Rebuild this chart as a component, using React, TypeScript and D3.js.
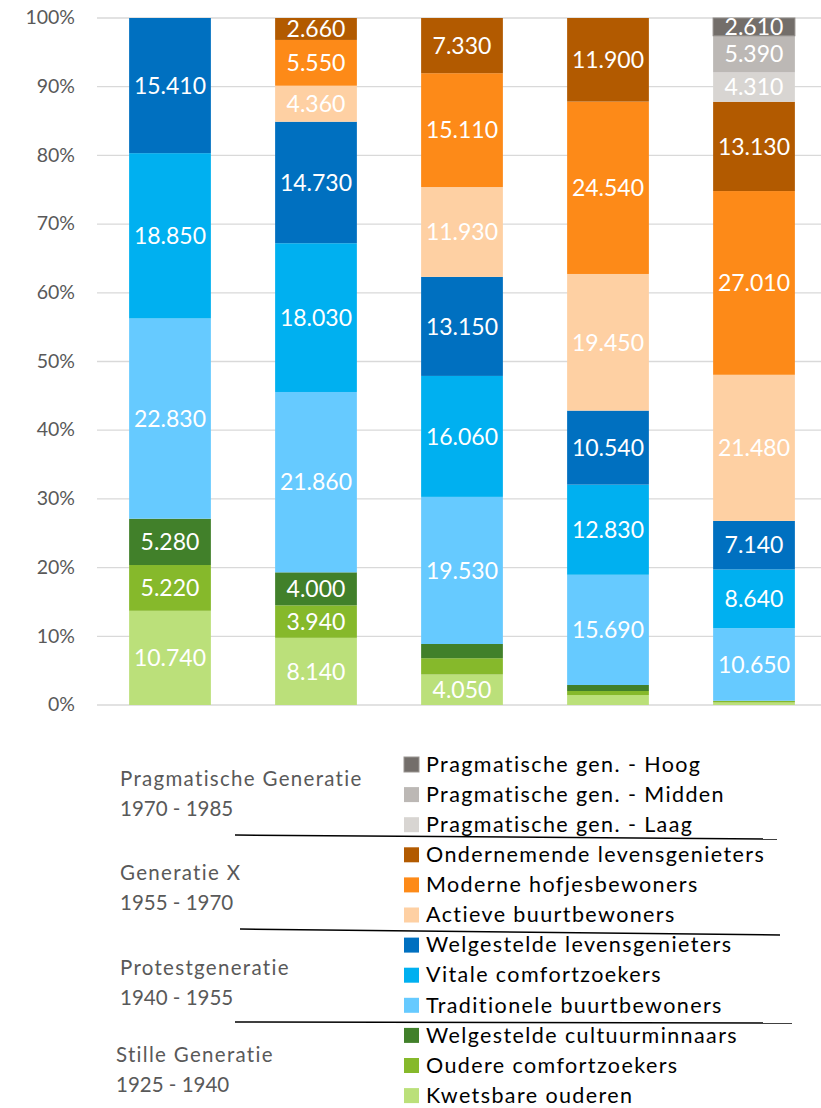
import { useEffect, useRef } from 'react';
import * as d3 from 'd3';

// five columns (no axis labels shown in the chart)
const columns = ['k1', 'k2', 'k3', 'k4', 'k5'];

// segments from bottom to top of each stack
const segmentNames = [
	'Kwetsbare ouderen',
	'Oudere comfortzoekers',
	'Welgestelde cultuurminnaars',
	'Traditionele buurtbewoners',
	'Vitale comfortzoekers',
	'Welgestelde levensgenieters',
	'Actieve buurtbewoners',
	'Moderne hofjesbewoners',
	'Ondernemende levensgenieters',
	'Pragmatische gen. - Laag',
	'Pragmatische gen. - Midden',
	'Pragmatische gen. - Hoog',
];

const kwetsbareOuderen = [10740, 8140, 4050, 1420, 370];
const oudereComfortzoekers = [5220, 3940, 2160, 570, 230];
const welgesteldeCultuurminnaars = [5280, 4000, 1890, 860, 30];
const traditioneleBuurtbewoners = [22830, 21860, 19530, 15690, 10650];
const vitaleComfortzoekers = [18850, 18030, 16060, 12830, 8640];
const welgesteldeLevensgenieters = [15410, 14730, 13150, 10540, 7140];
const actieveBuurtbewoners = [0, 4360, 11930, 19450, 21480];
const moderneHofjesbewoners = [0, 5550, 15110, 24540, 27010];
const ondernemendeLevensgenieters = [0, 2660, 7330, 11900, 13130];
const pragmatischLaag = [0, 0, 0, 0, 4310];
const pragmatischMidden = [0, 0, 0, 0, 5390];
const pragmatischHoog = [0, 0, 0, 0, 2610];

const segmentValues = [
	kwetsbareOuderen,
	oudereComfortzoekers,
	welgesteldeCultuurminnaars,
	traditioneleBuurtbewoners,
	vitaleComfortzoekers,
	welgesteldeLevensgenieters,
	actieveBuurtbewoners,
	moderneHofjesbewoners,
	ondernemendeLevensgenieters,
	pragmatischLaag,
	pragmatischMidden,
	pragmatischHoog,
];

const segmentColors = [
	'#bbe07a',
	'#86b92b',
	'#41802a',
	'#66caff',
	'#00b0f0',
	'#0070c0',
	'#fed0a3',
	'#fd8a18',
	'#b25a00',
	'#d8d5d2',
	'#bcb8b5',
	'#736e6a',
];

const yTicks = [0, 0.1, 0.2, 0.3, 0.4, 0.5, 0.6, 0.7, 0.8, 0.9, 1];

const generations = [
	['Pragmatische Generatie', '1970 - 1985'],
	['Generatie X', '1955 - 1970'],
	['Protestgeneratie', '1940 - 1955'],
	['Stille Generatie', '1925 - 1940'],
];

const nl = d3.formatLocale({
	decimal: ',',
	thousands: '.',
	grouping: [3],
	currency: ['€', ''],
});
const fmtValue = nl.format(',d');

export default function App() {
	const svgRef = useRef<SVGSVGElement>(null);
	const width = 821;
	const height = 1108;
	const margin = { top: 18, left: 97, right: 827, bottom: 705 };

	useEffect(() => {
		if (!svgRef.current) return;
		const svg = d3.select(svgRef.current);
		svg.selectAll('*').remove();

		const table = columns.map((c, i) => {
			const row: Record<string, number | string> = { col: c };
			segmentNames.forEach((s, j) => (row[s] = segmentValues[j][i]));
			return row;
		});

		const series = d3
			.stack<any>()
			.keys(segmentNames)
			.offset(d3.stackOffsetExpand)(table);

		const xScale = d3
			.scaleBand()
			.domain(columns)
			.range([margin.left, margin.right])
			.paddingInner(0.44)
			.paddingOuter(0.22);

		const yScale = d3
			.scaleLinear()
			.domain([0, 1])
			.range([margin.bottom, margin.top]);

		const color = d3.scaleOrdinal<string>().domain(segmentNames).range(segmentColors);

		// grid
		svg
			.append('g')
			.selectAll('line')
			.data(yTicks)
			.enter()
			.append('line')
			.attr('x1', margin.left)
			.attr('x2', width)
			.attr('y1', (d) => yScale(d))
			.attr('y2', (d) => yScale(d))
			.attr('stroke', '#d9d9d9')
			.attr('stroke-width', 1.3);

		// y labels
		svg
			.append('g')
			.selectAll('text')
			.data(yTicks)
			.enter()
			.append('text')
			.attr('x', 75)
			.attr('y', (d) => yScale(d))
			.attr('dy', '0.32em')
			.attr('text-anchor', 'end')
			.attr('fill', '#595959')
			.style('font-family', 'Lato, sans-serif')
			.style('font-size', '19.5px')
			.text((d) => d3.format('.0%')(d));

		// bars
		const layers = svg
			.append('g')
			.selectAll('g')
			.data(series)
			.enter()
			.append('g')
			.attr('fill', (d) => color(d.key));

		layers
			.selectAll('rect')
			.data((d) => d.map((p) => ({ p, key: d.key })))
			.enter()
			.append('rect')
			.attr('x', (d) => xScale(d.p.data.col as string)!)
			.attr('width', xScale.bandwidth())
			.attr('y', (d) => yScale(d.p[1]))
			.attr('height', (d) => Math.max(0, yScale(d.p[0]) - yScale(d.p[1])))
			.attr('stroke', (d) => (d.key === 'Pragmatische gen. - Hoog' ? '#8e8985' : 'none'))
			.attr('stroke-width', 1);

		// value labels
		layers
			.selectAll('text')
			.data((d) => d.map((p) => ({ p, key: d.key })))
			.enter()
			.filter((d) => yScale(d.p[0]) - yScale(d.p[1]) >= 17)
			.append('text')
			.attr('x', (d) => xScale(d.p.data.col as string)! + xScale.bandwidth() / 2)
			.attr('y', (d) => (yScale(d.p[0]) + yScale(d.p[1])) / 2)
			.attr('dy', '0.36em')
			.attr('text-anchor', 'middle')
			.attr('fill', '#ffffff')
			.style('font-family', 'Lato, sans-serif')
			.style('font-size', '23px')
			.text((d) => fmtValue(d.p.data[d.key] as number));

		// legend
		const legendTop = 764;
		const rowStep = 30.1;
		const legendNames = [...segmentNames].reverse();
		const legend = svg.append('g');
		legendNames.forEach((name, i) => {
			const row = legend
				.append('g')
				.attr('transform', `translate(404, ${legendTop + i * rowStep})`);
			row
				.append('rect')
				.attr('x', 0)
				.attr('y', -7)
				.attr('width', 15)
				.attr('height', 15)
				.attr('fill', color(name))
				.attr('stroke', name === 'Pragmatische gen. - Hoog' ? '#9a9591' : 'none');
			row
				.append('text')
				.attr('x', 22)
				.attr('y', 0)
				.attr('dy', '0.36em')
				.attr('fill', '#000')
				.style('font-family', 'Lato, sans-serif')
				.style('font-size', '21.5px')
				.style('letter-spacing', '1.4px')
				.text(name);
		});

		// generation labels
		const genY = [779, 873, 968, 1055];
		const genX = [120, 120, 120, 116];
		generations.forEach((g, i) => {
			g.forEach((t, k) => {
				svg
					.append('text')
					.attr('x', genX[i])
					.attr('y', genY[i] + k * 29.5)
					.attr('dy', '0.36em')
					.attr('fill', '#595959')
					.style('font-family', 'Lato, sans-serif')
					.style('font-size', '20.5px')
					.style('letter-spacing', k === 0 ? '1.3px' : '0px')
					.text(t);
			});
		});

		// separator lines between generations
		const separators = [
			[235, 835, 777, 839],
			[240, 929, 780, 935],
			[235, 1022, 792, 1023],
		];
		svg
			.append('g')
			.selectAll('line')
			.data(separators)
			.enter()
			.append('line')
			.attr('x1', (d) => d[0])
			.attr('y1', (d) => d[1])
			.attr('x2', (d) => d[2])
			.attr('y2', (d) => d[3])
			.attr('stroke', '#000')
			.attr('stroke-width', 1.5);
	}, []);

	return (
		<svg
			ref={svgRef}
			width={width}
			height={height}
			style={{ position: 'absolute', left: 0, top: 0, background: '#fff' }}
		/>
	);
}
